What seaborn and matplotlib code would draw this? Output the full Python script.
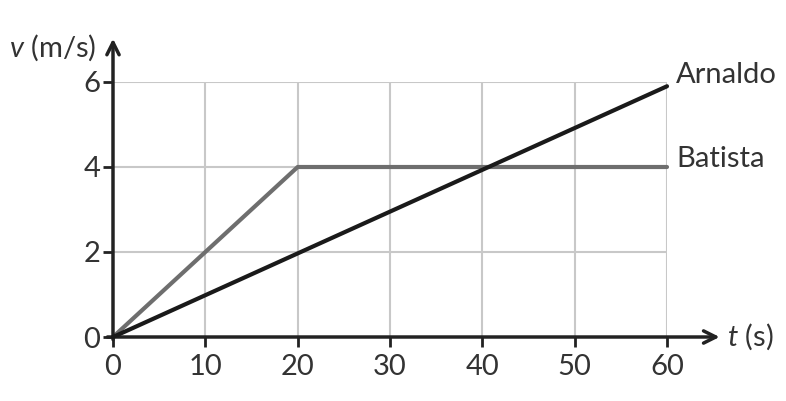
import pandas as pd
import numpy as np
import matplotlib
matplotlib.use('Agg')
import matplotlib.pyplot as plt
import seaborn as sns

# Data
t_arnaldo = [0, 60]
v_arnaldo = [0, 5.9]
t_batista = [0, 20, 60]
v_batista = [0, 4, 4]
x_ticks = [0, 10, 20, 30, 40, 50, 60]
y_ticks = [0, 2, 4, 6]

sns.set_style('white')
plt.rcParams['font.family'] = ['Lato', 'DejaVu Sans']
plt.rcParams['mathtext.fontset'] = 'custom'
plt.rcParams['mathtext.rm'] = 'Lato'
plt.rcParams['mathtext.it'] = 'Lato:italic'

fig = plt.figure(figsize=(7.86, 4.01), dpi=100)
ax = fig.add_axes([113 / 786, 1 - 337 / 401, 554 / 786, 255 / 401])

axis_col = '#222222'
text_col = '#333333'
fs = 21

# grid
for x in x_ticks[1:]:
    ax.axvline(x, color='#c8c8c8', lw=1.5, zorder=0)
for y in y_ticks[1:]:
    ax.axhline(y, color='#c8c8c8', lw=1.5, zorder=0)

arn = pd.DataFrame({'t': t_arnaldo, 'v': v_arnaldo})
bat = pd.DataFrame({'t': t_batista, 'v': v_batista})
sns.lineplot(data=bat, x='t', y='v', ax=ax, color='#6e6e6e', lw=3, sort=False,
             estimator=None, clip_on=False, zorder=3)
sns.lineplot(data=arn, x='t', y='v', ax=ax, color='#1a1a1a', lw=3, sort=False,
             estimator=None, clip_on=False, zorder=4)

ax.set_xlim(0, 60)
ax.set_ylim(0, 6)
for s in ax.spines.values():
    s.set_visible(False)

ax.set_xticks(x_ticks)
ax.set_yticks(y_ticks)
ax.tick_params(axis='both', length=7, width=2, color=axis_col, labelcolor=text_col,
               labelsize=fs, direction='out')
ax.tick_params(axis='x', bottom=True, pad=5)
ax.tick_params(axis='y', left=True, pad=2)
ax.set_xlabel('')
ax.set_ylabel('')

# axis arrows
ax.annotate('', xy=(1.095, 0), xytext=(-0.01, 0), xycoords='axes fraction',
            arrowprops=dict(arrowstyle='->', color=axis_col, lw=2.5,
                            mutation_scale=22, shrinkA=0, shrinkB=0))
ax.annotate('', xy=(0, 1.17), xytext=(0, -0.01), xycoords='axes fraction',
            arrowprops=dict(arrowstyle='->', color=axis_col, lw=2.5,
                            mutation_scale=22, shrinkA=0, shrinkB=0))

ax.text(1.108, 0, '$\\mathit{t}$ (s)', transform=ax.transAxes, ha='left',
        va='center', fontsize=fs, color=text_col)
ax.text(-0.03, 1.135, '$\\mathit{v}$ (m/s)', transform=ax.transAxes, ha='right',
        va='center', fontsize=fs, color=text_col)

ax.text(61.0, 6.16, 'Arnaldo', ha='left', va='center', fontsize=fs, color=text_col)
ax.text(61.0, 4.18, 'Batista', ha='left', va='center', fontsize=fs, color=text_col)

fig.savefig('out.png', dpi=100)
